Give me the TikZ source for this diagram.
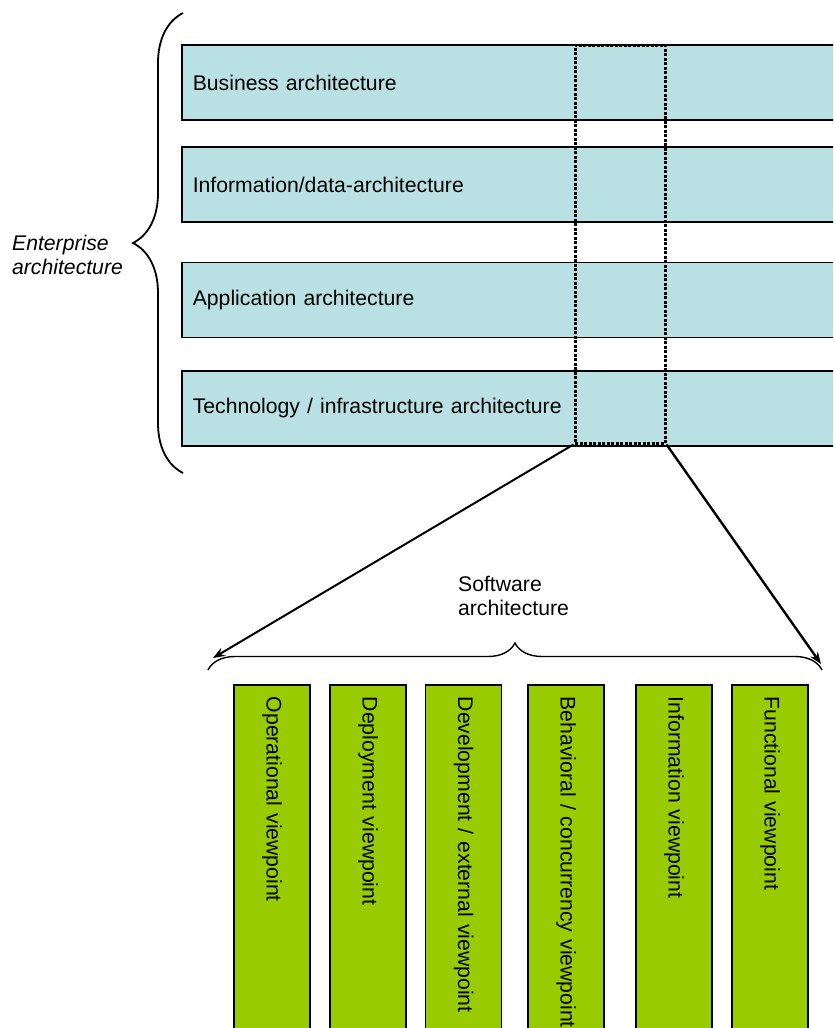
\documentclass[tikz,border=0pt]{standalone}
\usepackage{fontspec}
\setmainfont{Liberation Sans}
\usetikzlibrary{arrows.meta, decorations.pathreplacing}

\definecolor{layerblue}{RGB}{185,224,227}
\definecolor{viewgreen}{RGB}{153,204,0}

\begin{document}
\begin{tikzpicture}[x=1pt, y=-1pt, line width=1.6pt, font=\fontsize{21.2}{24.5}\selectfont]
  \tikzstyle{layer}=[draw, fill=layerblue, anchor=west, minimum height=75, text width=640, inner xsep=11, align=left]
  \tikzstyle{view}=[draw, fill=viewgreen, rotate=-90, anchor=west, minimum height=76, text width=340, inner xsep=12, align=left]
  \tikzstyle{zoomed}=[draw, dash pattern=on 3pt off 1.5pt, line width=3pt, minimum width=90, minimum height=398, inner sep=0]
  \useasboundingbox (0,0) rectangle (833,1028);
  \clip (0,0) rectangle (833,1028);

  \node[layer] (L_1) at (181,82.5) {Business architecture};
  \node[layer] (L_2) at (181,184.5) {Information/data-architecture};
  \node[layer] (L_3) at (181,300) {Application architecture};
  \node[layer] (L_4) at (181,408.5) {Technology / infrastructure architecture};

  \node[zoomed] (zoom) at (620,244) {};

  \draw[decorate, decoration={brace, amplitude=50}, line width=1.8pt] (183,473) -- (183,13);
  \node[anchor=west, align=left, font=\fontsize{21.2}{24.5}\selectfont\itshape] (ent) at (8,255) {Enterprise\\architecture};

  \node[view] (V_1) at (272,684) {Operational viewpoint};
  \node[view] (V_2) at (368,684) {Deployment viewpoint};
  \node[view] (V_3) at (463.5,684) {Development / external viewpoint};
  \node[view] (V_4) at (566,684) {Behavioral / concurrency viewpoint};
  \node[view] (V_5) at (674,684) {Information viewpoint};
  \node[view] (V_6) at (770,684) {Functional viewpoint};

  \coordinate (B_l) at (208,670);
  \coordinate (B_r) at (822,670);
  \draw[decorate, decoration={brace, amplitude=27}, line width=1.4pt] (B_l) -- (B_r);
  \node[anchor=west, align=left] (sw) at (454,596) {Software\\architecture};

  \coordinate (sw_l) at (213,658);
  \coordinate (sw_r) at (821,664);
  \draw[-{Stealth[length=12pt, width=9pt]}, line width=2pt] (zoom.south west) -- (sw_l);
  \draw[-{Stealth[length=12pt, width=9pt]}, line width=2.4pt] (zoom.south east) -- (sw_r);
\end{tikzpicture}
\end{document}
